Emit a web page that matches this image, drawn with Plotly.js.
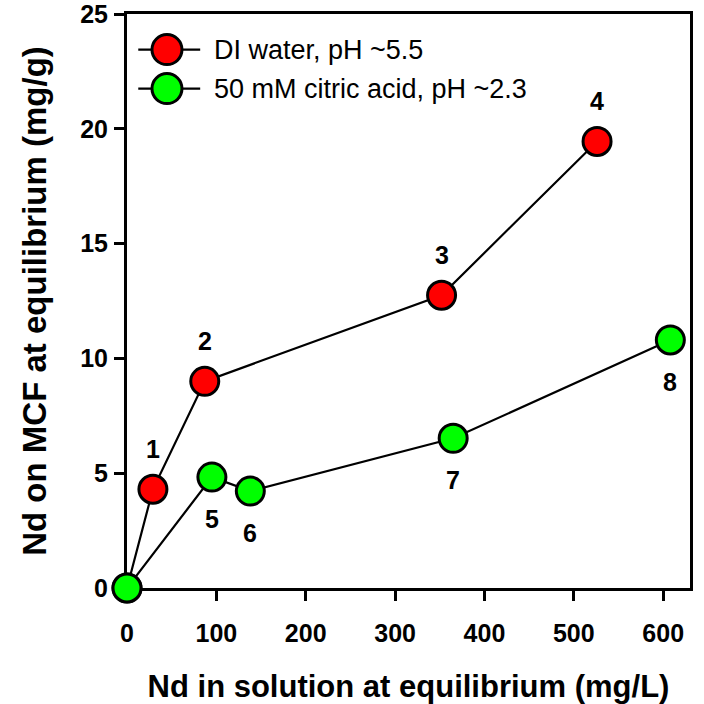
<!DOCTYPE html>
<html><head><meta charset="utf-8">
<script src="https://cdn.plot.ly/plotly-3.0.1.min.js"></script>
<style>body{margin:0;background:#fff}#c{width:704px;height:704px}</style>
</head><body><div id="c"></div>
<script>
const diX = [0, 29, 87, 352, 526];
const diY = [0, 4.3, 9.0, 12.75, 19.45];
const diLabels = ['', '1', '2', '3', '4'];
const caX = [0, 95, 138, 365, 608];
const caY = [0, 4.83, 4.22, 6.52, 10.8];
const caLabels = ['', '5', '6', '7', '8'];
const seriesNames = ['DI water, pH ~5.5', '50 mM citric acid, pH ~2.3'];
const seriesColors = ['#ff0000', '#00ff00'];
const xTicks = [0, 100, 200, 300, 400, 500, 600];
const yTicks = [0, 5, 10, 15, 20, 25];

const F = 'Arial, "Liberation Sans", sans-serif';
function trace(x, y, name, color) {
  return {x: x, y: y, name: name, mode: 'lines+markers', type: 'scatter', cliponaxis: false,
    line: {color: '#000', width: 2.2},
    marker: {size: 28, color: color, line: {color: '#000', width: 3}}, showlegend: false};
}
const data = [trace(diX, diY, seriesNames[0], seriesColors[0]), trace(caX, caY, seriesNames[1], seriesColors[1])];

const annotations = [];
diX.forEach((x, i) => { if (diLabels[i]) annotations.push({x: x, y: diY[i], text: diLabels[i], showarrow: false, yshift: 40, font: {family: F, size: 25, color: '#000', weight: 'bold'}}); });
caX.forEach((x, i) => { if (caLabels[i]) annotations.push({x: x, y: caY[i], text: caLabels[i], showarrow: false, yshift: -42, font: {family: F, size: 25, color: '#000', weight: 'bold'}}); });

// custom legend
const shapes = [];
const legY = [0.938, 0.870];
seriesNames.forEach((n, i) => {
  shapes.push({type: 'line', xref: 'paper', yref: 'paper', x0: 0.02, x1: 0.13, y0: legY[i], y1: legY[i], line: {color: '#000', width: 2.2}});
  shapes.push({type: 'circle', xref: 'paper', yref: 'paper', xsizemode: 'pixel', ysizemode: 'pixel', xanchor: 0.071, yanchor: legY[i], x0: -15, x1: 15, y0: -15, y1: 15, fillcolor: seriesColors[i], line: {color: '#000', width: 3}});
  annotations.push({xref: 'paper', yref: 'paper', x: 0.151, y: legY[i], xanchor: 'left', yanchor: 'middle', text: n, showarrow: false, font: {family: F, size: 27, color: '#000'}});
});

const axBase = {showgrid: false, zeroline: false, showline: true, linecolor: '#000', linewidth: 3, mirror: true,
  layer: 'below traces',
  ticks: 'outside', ticklen: 10, tickwidth: 3, tickcolor: '#000', ticklabeloverflow: 'allow',
  tickfont: {family: F, size: 25, color: '#000', weight: 'bold'}};
const layout = {
  width: 704, height: 704, margin: {l: 127, r: 14, t: 14, b: 116},
  paper_bgcolor: '#fff', plot_bgcolor: '#fff', showlegend: false,
  xaxis: Object.assign({}, axBase, {range: [0, 630], tickvals: xTicks, ticktext: xTicks.map(String), ticklabelstandoff: 11,
    title: {text: 'Nd in solution at equilibrium (mg/L)', font: {family: F, size: 31, color: '#000', weight: 'bold'}, standoff: 31}}),
  yaxis: Object.assign({}, axBase, {range: [0, 25], tickvals: yTicks, ticktext: yTicks.map(String), ticklabelstandoff: 1,
    title: {text: 'Nd on MCF at equilibrium (mg/g)', font: {family: F, size: 33, color: '#000', weight: 'bold'}, standoff: 24}}),
  annotations: annotations, shapes: shapes
};
Plotly.newPlot('c', data, layout, {staticPlot: true});
</script></body></html>
